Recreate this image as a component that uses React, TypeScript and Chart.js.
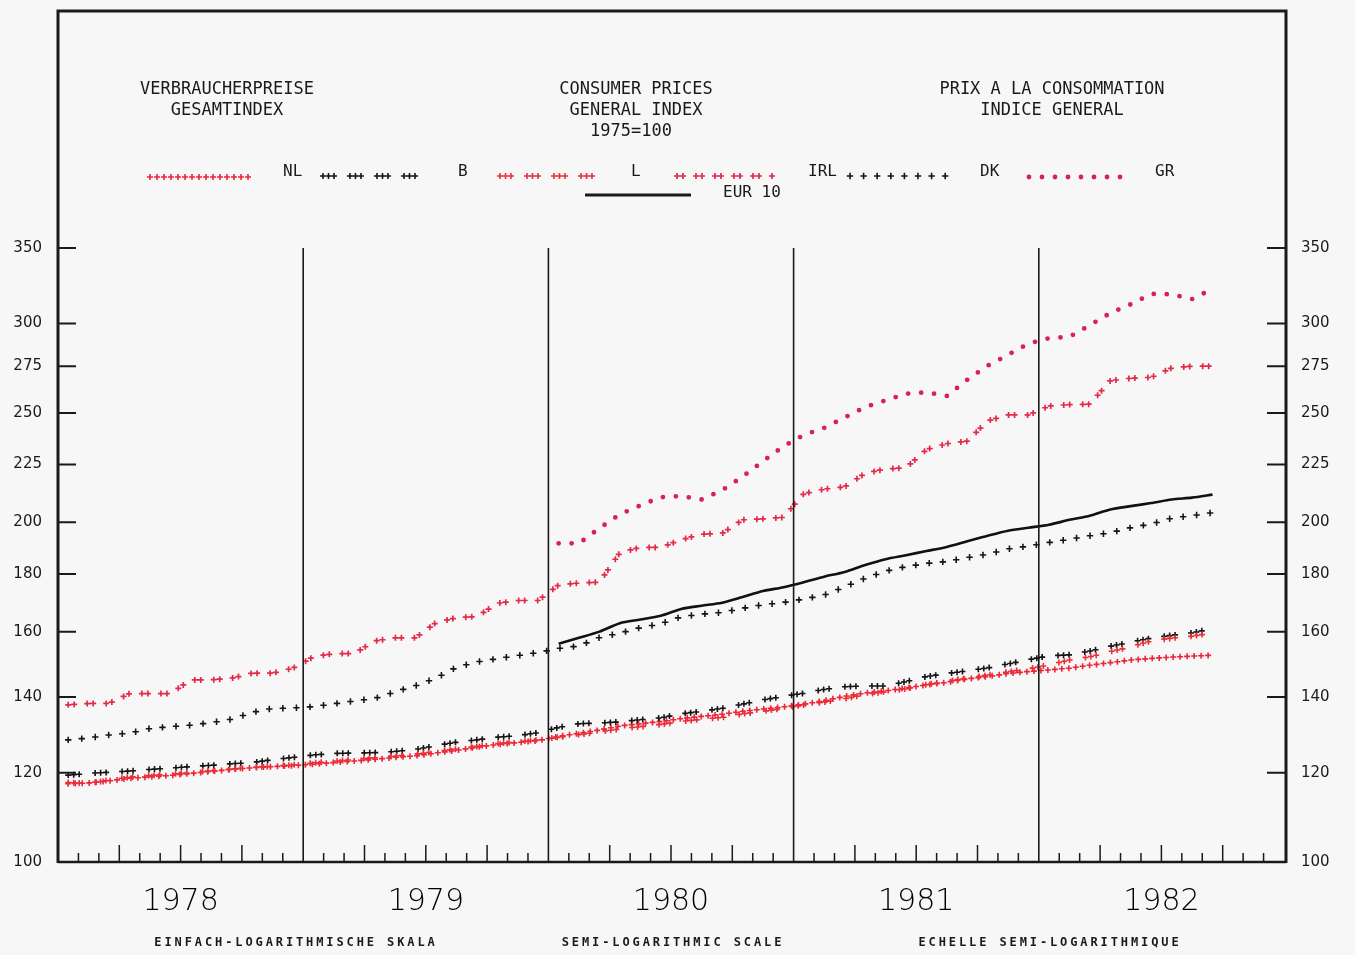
import React, { useEffect, useRef } from 'react';
import { Chart, registerables } from 'chart.js';

Chart.register(...registerables);

// ---------- data ----------
const yearLabels = ['1978', '1979', '1980', '1981', '1982'];
const monthNames = ['01', '02', '03', '04', '05', '06', '07', '08', '09', '10', '11', '12'];
const months: string[] = [];
yearLabels.forEach((y) => monthNames.forEach((m) => months.push(`${y}-${m}`)));

const yTickValues = [100, 120, 140, 160, 180, 200, 225, 250, 275, 300, 350];

// monthly values from Jan 1978 (index 0) to Sep 1982
const nlValues = [
  117.3, 117.5, 118.0, 118.6, 119.0, 119.3, 119.8, 120.3, 120.8, 121.2, 121.5, 121.7,
  122.1, 122.5, 122.9, 123.3, 123.8, 124.2, 124.9, 125.6, 126.4, 127.1, 127.6, 128.1,
  129.2, 130.0, 130.9, 132.0, 132.6, 133.2, 134.0, 134.6, 135.2, 136.0, 136.6, 137.2,
  138.0, 139.0, 140.2, 141.2, 141.8, 142.6, 143.5, 144.3, 145.3, 146.0, 146.9, 147.5,
  148.0, 148.5, 149.4, 150.2, 151.0, 151.5, 151.9, 152.2, 152.5,
];
const bValues = [
  119.4, 119.8, 120.1, 120.4, 120.8, 121.1, 121.5, 121.8, 122.2, 122.5, 123.2, 123.8,
  124.4, 124.8, 124.9, 125.0, 125.3, 125.8, 126.8, 127.7, 128.3, 129.0, 129.4, 130.2,
  131.6, 132.6, 132.8, 133.1, 133.7, 134.2, 135.3, 136.0, 136.8, 138.0, 139.2, 140.2,
  141.1, 142.2, 143.0, 143.2, 143.2, 144.5, 146.0, 146.9, 147.7, 148.6, 149.8, 151.1,
  152.3, 152.6, 153.8, 155.3, 156.6, 157.9, 158.8, 159.6, 161.0,
];
const lValues = [
  117.6, 117.4, 118.2, 118.9, 119.3, 119.6, 120.0, 120.5, 120.9, 121.3, 121.6, 121.9,
  122.4, 122.8, 123.3, 123.7, 124.1, 124.6, 125.3, 125.9, 126.6, 127.3, 127.8, 128.3,
  129.0, 129.7, 130.4, 131.2, 131.8, 132.4, 133.2, 133.8, 134.3, 135.3, 136.0, 136.8,
  137.8, 138.6, 139.5, 140.8, 141.5, 142.4, 143.6, 144.6, 145.5, 146.4, 147.4, 148.3,
  149.5, 151.0, 152.0, 153.6, 155.1, 157.0, 157.9, 158.5, 159.6,
];
const irlValues = [
  137.8, 138.2, 138.2, 141.0, 141.0, 141.0, 145.0, 145.0, 145.5, 147.0, 147.0, 148.5,
  152.0, 153.0, 153.0, 157.0, 158.0, 158.0, 163.0, 164.6, 165.0, 169.5, 170.5, 170.5,
  176.0, 176.7, 177.0, 188.0, 190.0, 190.0, 193.0, 195.2, 195.5, 201.0, 201.4, 202.0,
  212.0, 214.0, 215.0, 221.0, 223.0, 223.5, 232.0, 234.8, 236.0, 246.0, 249.0, 249.0,
  253.5, 254.3, 254.5, 267.0, 268.3, 268.8, 274.0, 275.0, 275.0,
];
const dkValues = [
  128.3, 128.8, 129.6, 130.1, 131.3, 131.8, 132.2, 132.9, 133.8, 135.7, 136.8, 136.9,
  137.3, 138.1, 138.9, 139.6, 141.5, 143.3, 145.5, 148.8, 150.4, 151.4, 152.4, 153.3,
  154.6, 155.4, 158.1, 159.5, 161.3, 162.6, 164.9, 165.8, 166.4, 167.8, 169.0, 169.8,
  171.0, 172.4, 175.3, 178.4, 181.0, 182.7, 183.9, 184.6, 186.1, 187.4, 189.4, 190.5,
  191.9, 193.2, 194.6, 195.8, 197.8, 199.3, 201.7, 202.7, 204.0,
];
// from Jan 1980 (index 24)
const grValues = [
  191.6, 191.6, 197.6, 203.3, 207.0, 210.5, 211.0, 209.5, 213.5, 219.5, 226.5, 233.5,
  239.0, 242.5, 247.7, 253.0, 256.5, 260.0, 260.7, 258.8, 267.5, 275.3, 281.5, 288.0,
  291.2, 292.0, 299.0, 306.5, 312.0, 318.7, 318.5, 315.3, 322.0,
];
const eur10Values = [
  156.1, 158.0, 160.0, 162.8, 164.0, 165.3, 167.6, 168.7, 169.7, 171.7, 173.8, 175.2,
  177.0, 179.0, 180.7, 183.3, 185.5, 187.0, 188.6, 190.2, 192.4, 194.6, 196.6, 197.8,
  199.0, 201.0, 202.7, 205.3, 206.7, 208.0, 209.5, 210.3, 211.6,
];

const toPoints = (vals: number[], startIndex: number) =>
  vals.map((v, i) => ({ x: startIndex + i + 0.5, y: v }));

// ---------- mark styles ----------
type MarkStyle = {
  color: string;
  period: number;
  offsets: number[];
  kind: 'plus' | 'dot';
  size: number;
  width?: number;
};

const styles: Record<string, MarkStyle> = {
  NL: { color: '#ee2438', period: 7, offsets: [0], kind: 'plus', size: 3, width: 1.6 },
  B: { color: '#151515', period: 27, offsets: [0, 5.5, 11], kind: 'plus', size: 3, width: 1.6 },
  L: { color: '#e9303a', period: 27, offsets: [0, 5.5, 11], kind: 'plus', size: 3, width: 1.6 },
  IRL: { color: '#e52a48', period: 19, offsets: [0, 6], kind: 'plus', size: 3, width: 1.7 },
  DK: { color: '#151515', period: 13.6, offsets: [0], kind: 'plus', size: 3.2, width: 1.6 },
  GR: { color: '#d91f5c', period: 13, offsets: [0], kind: 'dot', size: 2.4 },
};

function plusMark(ctx: CanvasRenderingContext2D, x: number, y: number, s: number) {
  ctx.moveTo(x - s, y);
  ctx.lineTo(x + s, y);
  ctx.moveTo(x, y - s);
  ctx.lineTo(x, y + s);
}

function stamp(ctx: CanvasRenderingContext2D, pts: { x: number; y: number }[], st: MarkStyle) {
  if (pts.length < 2) return;
  const cum = [0];
  for (let i = 1; i < pts.length; i++) {
    cum.push(cum[i - 1] + Math.hypot(pts[i].x - pts[i - 1].x, pts[i].y - pts[i - 1].y));
  }
  const total = cum[cum.length - 1];
  ctx.save();
  ctx.strokeStyle = st.color;
  ctx.fillStyle = st.color;
  ctx.lineWidth = st.width ?? 1.6;
  ctx.beginPath();
  let seg = 1;
  for (let base = 0; base <= total + 0.01; base += st.period) {
    for (const off of st.offsets) {
      const d = base + off;
      if (d > total + 0.01) break;
      while (seg < pts.length - 1 && cum[seg] < d) seg++;
      const a = pts[seg - 1];
      const b = pts[seg];
      const len = cum[seg] - cum[seg - 1] || 1;
      const t = Math.min(1, Math.max(0, (d - cum[seg - 1]) / len));
      const x = a.x + (b.x - a.x) * t;
      const y = a.y + (b.y - a.y) * t;
      if (st.kind === 'dot') {
        ctx.moveTo(x + st.size, y);
        ctx.arc(x, y, st.size, 0, Math.PI * 2);
      } else {
        plusMark(ctx, x, y, st.size);
      }
    }
  }
  if (st.kind === 'dot') ctx.fill();
  else ctx.stroke();
  ctx.restore();
}

const INK = '#1a1a1a';

const decorPlugin = {
  id: 'decor',
  beforeDraw(chart: any) {
    const { ctx, width, height } = chart;
    ctx.save();
    ctx.fillStyle = '#f7f7f7';
    ctx.fillRect(0, 0, width, height);
    ctx.restore();
  },
  afterDatasetsDraw(chart: any) {
    const ctx: CanvasRenderingContext2D = chart.ctx;
    chart.data.datasets.forEach((ds: any, i: number) => {
      if (!ds.markKey) return;
      const meta = chart.getDatasetMeta(i);
      const pts = meta.data.map((p: any) => ({ x: p.x, y: p.y }));
      stamp(ctx, pts, styles[ds.markKey]);
    });
  },
  afterDraw(chart: any) {
    const ctx: CanvasRenderingContext2D = chart.ctx;
    const area = chart.chartArea;
    const xs = chart.scales.x;
    const ys = chart.scales.y;
    ctx.save();
    ctx.strokeStyle = INK;
    ctx.lineCap = 'butt';

    // frame
    ctx.lineWidth = 3;
    ctx.beginPath();
    ctx.moveTo(area.left, area.bottom + 1);
    ctx.lineTo(area.left, 11);
    ctx.lineTo(area.right + 2, 11);
    ctx.lineTo(area.right + 2, area.bottom + 1);
    ctx.stroke();
    ctx.lineWidth = 2.5;
    ctx.beginPath();
    ctx.moveTo(area.left, area.bottom);
    ctx.lineTo(area.right + 2, area.bottom);
    ctx.stroke();

    // year separators
    ctx.lineWidth = 1.6;
    ctx.beginPath();
    for (let k = 12; k < 60; k += 12) {
      const x = xs.getPixelForValue(k);
      ctx.moveTo(x, area.top);
      ctx.lineTo(x, area.bottom);
    }
    ctx.stroke();

    // month ticks (inward)
    ctx.lineWidth = 1.5;
    ctx.beginPath();
    for (let k = 1; k < 60; k++) {
      if (k % 12 === 0) continue;
      const x = xs.getPixelForValue(k);
      const len = k % 3 === 0 ? 17 : 9;
      ctx.moveTo(x, area.bottom);
      ctx.lineTo(x, area.bottom - len);
    }
    ctx.stroke();

    // value ticks (inward, both sides)
    ctx.lineWidth = 2;
    ctx.beginPath();
    yTickValues.forEach((v) => {
      if (v === 100) return;
      const y = ys.getPixelForValue(v);
      ctx.moveTo(area.left, y);
      ctx.lineTo(area.left + 18, y);
      ctx.moveTo(area.right - 17, y);
      ctx.lineTo(area.right + 1, y);
    });
    ctx.stroke();

    // titles
    ctx.fillStyle = INK;
    ctx.textAlign = 'center';
    ctx.textBaseline = 'middle';
    ctx.font = '17px "DejaVu Sans Mono"';
    const titles: [string, number, number][] = [
      ['VERBRAUCHERPREISE', 227, 90],
      ['GESAMTINDEX', 227, 111],
      ['CONSUMER PRICES', 636, 90],
      ['GENERAL INDEX', 636, 111],
      ['1975=100', 631, 132],
      ['PRIX A LA CONSOMMATION', 1052, 90],
      ['INDICE GENERAL', 1052, 111],
    ];
    titles.forEach(([t, x, y]) => ctx.fillText(t, x, y));

    // legend
    const legendItems: [string, number, number, number, number][] = [
      ['NL', 150, 250, 177, 283],
      ['B', 323, 426, 176, 458],
      ['L', 500, 603, 176, 631],
      ['IRL', 677, 772, 176, 808],
      ['DK', 850, 952, 176, 980],
      ['GR', 1029, 1130, 177, 1155],
    ];
    ctx.font = '16px "DejaVu Sans Mono"';
    ctx.textAlign = 'left';
    legendItems.forEach(([key, x1, x2, y, lx]) => {
      stamp(ctx, [{ x: x1, y }, { x: x2, y }], styles[key]);
      ctx.fillStyle = INK;
      ctx.fillText(key, lx, 172);
    });
    ctx.strokeStyle = INK;
    ctx.lineWidth = 3;
    ctx.beginPath();
    ctx.moveTo(585, 195);
    ctx.lineTo(691, 195);
    ctx.stroke();
    ctx.fillText('EUR 10', 723, 193);

    // captions
    ctx.font = 'bold 12px "DejaVu Sans Mono"';
    (ctx as any).letterSpacing = '2.9px';
    ctx.textAlign = 'center';
    const captions: [string, number][] = [
      ['EINFACH-LOGARITHMISCHE SKALA', 296],
      ['SEMI-LOGARITHMIC SCALE', 673],
      ['ECHELLE SEMI-LOGARITHMIQUE', 1050],
    ];
    captions.forEach(([t, x]) => ctx.fillText(t, x, 943));
    (ctx as any).letterSpacing = '0px';
    ctx.restore();
  },
};

export default function App() {
  const ref = useRef<HTMLCanvasElement | null>(null);

  useEffect(() => {
    if (!ref.current) return;
    const yAxisCommon = {
      type: 'logarithmic' as const,
      min: 100,
      max: 350,
      afterBuildTicks: (s: any) => {
        s.ticks = yTickValues.map((v) => ({ value: v }));
      },
      grid: { display: false, drawTicks: false },
      border: { display: false },
    };
    const chart = new Chart(ref.current, {
      type: 'line',
      data: {
        datasets: [
          { label: 'NL', data: toPoints(nlValues, 0), showLine: false, pointRadius: 0, markKey: 'NL' } as any,
          { label: 'B', data: toPoints(bValues, 0), showLine: false, pointRadius: 0, markKey: 'B' } as any,
          { label: 'L', data: toPoints(lValues, 0), showLine: false, pointRadius: 0, markKey: 'L' } as any,
          { label: 'IRL', data: toPoints(irlValues, 0), showLine: false, pointRadius: 0, markKey: 'IRL' } as any,
          { label: 'DK', data: toPoints(dkValues, 0), showLine: false, pointRadius: 0, markKey: 'DK' } as any,
          { label: 'GR', data: toPoints(grValues, 24), showLine: false, pointRadius: 0, markKey: 'GR' } as any,
          {
            label: 'EUR 10',
            data: toPoints(eur10Values, 24),
            borderColor: '#111111',
            borderWidth: 2.6,
            pointRadius: 0,
            tension: 0.25,
            fill: false,
          },
        ],
      },
      options: {
        animation: false,
        responsive: true,
        maintainAspectRatio: false,
        layout: { padding: { top: 248, left: 0, right: 0, bottom: 0 } },
        plugins: { legend: { display: false }, title: { display: false }, tooltip: { enabled: false } },
        scales: {
          x: {
            type: 'linear',
            min: 0,
            max: 60,
            ticks: {
              stepSize: 1,
              autoSkip: false,
              maxRotation: 0,
              padding: 22,
              color: '#000',
              font: { family: 'DejaVu Sans', size: 30, weight: '200' },
              callback: (v: any) => (v % 12 === 6 ? yearLabels[(v - 6) / 12] : ''),
            },
            grid: { display: false, drawTicks: false },
            border: { display: false },
            afterFit: (s: any) => {
              s.height = 93;
            },
          },
          y: {
            ...yAxisCommon,
            position: 'left',
            ticks: {
              autoSkip: false,
              padding: 16,
              color: '#1a1a1a',
              font: { family: 'DejaVu Sans', size: 15 },
              callback: (v: any) => String(v),
            },
            afterFit: (s: any) => {
              s.width = 58;
            },
          },
          y2: {
            ...yAxisCommon,
            position: 'right',
            ticks: {
              autoSkip: false,
              padding: 17,
              color: '#1a1a1a',
              font: { family: 'DejaVu Sans', size: 15 },
              callback: (v: any) => String(v),
            },
            afterFit: (s: any) => {
              s.width = 71;
            },
          },
        },
      } as any,
      plugins: [decorPlugin],
    });
    return () => chart.destroy();
  }, []);

  return (
    <div style={{ position: 'absolute', left: 0, top: 0, width: 1355, height: 955 }}>
      <canvas ref={ref} />
    </div>
  );
}
